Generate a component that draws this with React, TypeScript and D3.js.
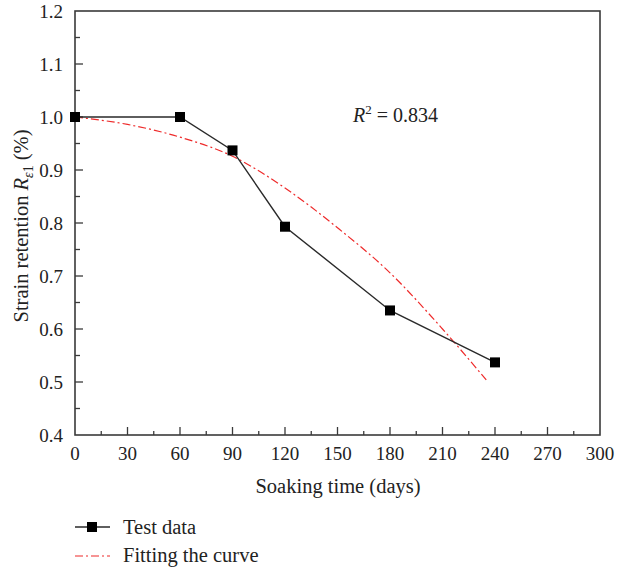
import React, { useEffect, useRef } from "react";
import * as d3 from "d3";

// test data
const testDays = [0, 60, 90, 120, 180, 240];
const testValues = [1.0, 1.0, 0.937, 0.793, 0.635, 0.537];

// fitted curve
const fitDays = [0, 30, 60, 90, 120, 150, 180, 210, 235];
const fitValues = [1.0, 0.986, 0.962, 0.926, 0.866, 0.791, 0.706, 0.6, 0.504];

const xTicks = [0, 30, 60, 90, 120, 150, 180, 210, 240, 270, 300];
const yTicks = [0.4, 0.5, 0.6, 0.7, 0.8, 0.9, 1.0, 1.1, 1.2];

const W = 617;
const H = 573;
const FONT = "'Liberation Serif', 'Times New Roman', serif";

const App = () => {
  const ref = useRef<SVGSVGElement>(null);

  useEffect(() => {
    const svg = d3.select(ref.current);
    svg.selectAll("*").remove();

    const x = d3.scaleLinear().domain([0, 300]).range([75, 600]);
    const y = d3.scaleLinear().domain([0.4, 1.2]).range([435, 11]);

    const g = svg.append("g");

    // inward ticks: major + minor
    const axisCol = "#3a3a3a";
    const minorX = d3.range(15, 300, 30);
    const minorY = d3.range(0.45, 1.2, 0.1);

    g.selectAll("line.xmaj")
      .data(xTicks.slice(1, -1))
      .join("line")
      .attr("x1", (d) => x(d))
      .attr("x2", (d) => x(d))
      .attr("y1", 435)
      .attr("y2", 427)
      .attr("stroke", axisCol)
      .attr("stroke-width", 1.3);
    g.selectAll("line.xmin")
      .data(minorX)
      .join("line")
      .attr("x1", (d) => x(d))
      .attr("x2", (d) => x(d))
      .attr("y1", 435)
      .attr("y2", 431)
      .attr("stroke", axisCol)
      .attr("stroke-width", 1.3);
    g.selectAll("line.ymaj")
      .data(yTicks.slice(1, -1))
      .join("line")
      .attr("x1", 75)
      .attr("x2", 83)
      .attr("y1", (d) => y(d))
      .attr("y2", (d) => y(d))
      .attr("stroke", axisCol)
      .attr("stroke-width", 1.3);
    g.selectAll("line.ymin")
      .data(minorY)
      .join("line")
      .attr("x1", 75)
      .attr("x2", 80)
      .attr("y1", (d) => y(d))
      .attr("y2", (d) => y(d))
      .attr("stroke", axisCol)
      .attr("stroke-width", 1.3);

    // frame
    g.append("rect")
      .attr("x", 75)
      .attr("y", 11)
      .attr("width", 525)
      .attr("height", 424)
      .attr("fill", "none")
      .attr("stroke", axisCol)
      .attr("stroke-width", 1.6);

    // tick labels
    g.selectAll("text.xt")
      .data(xTicks)
      .join("text")
      .attr("x", (d) => x(d))
      .attr("y", 460)
      .attr("text-anchor", "middle")
      .attr("font-family", FONT)
      .attr("font-size", 19)
      .attr("fill", "#222")
      .text((d) => d);
    g.selectAll("text.yt")
      .data(yTicks)
      .join("text")
      .attr("x", 63)
      .attr("y", (d) => y(d) + 6.5)
      .attr("text-anchor", "end")
      .attr("font-family", FONT)
      .attr("font-size", 19)
      .attr("fill", "#222")
      .text((d) => d.toFixed(1));

    // axis titles
    g.append("text")
      .attr("x", 338)
      .attr("y", 493)
      .attr("text-anchor", "middle")
      .attr("font-family", FONT)
      .attr("font-size", 20.5)
      .attr("fill", "#222")
      .text("Soaking time (days)");

    const yt = g
      .append("text")
      .attr("transform", "translate(28,226) rotate(-90)")
      .attr("text-anchor", "middle")
      .attr("font-family", FONT)
      .attr("font-size", 20.5)
      .attr("fill", "#222");
    yt.append("tspan").text("Strain retention ");
    yt.append("tspan").attr("font-style", "italic").text("R");
    yt.append("tspan")
      .attr("font-style", "italic")
      .attr("font-size", 14)
      .attr("dy", 5)
      .text("ε");
    yt.append("tspan").attr("font-size", 14).text("1");
    yt.append("tspan").attr("dy", -5).text(" (%)");

    // R^2 annotation
    const r2 = g
      .append("text")
      .attr("x", 353)
      .attr("y", 122)
      .attr("font-family", FONT)
      .attr("font-size", 20)
      .attr("fill", "#222");
    r2.append("tspan").attr("font-style", "italic").text("R");
    r2.append("tspan").attr("font-size", 13).attr("dy", -8).text("2");
    r2.append("tspan").attr("dy", 8).text(" = 0.834");

    // fitted curve
    const fitLine = d3
      .line<number>()
      .x((_, i) => x(fitDays[i]))
      .y((d) => y(d))
      .curve(d3.curveMonotoneX);
    g.append("path")
      .attr("d", fitLine(fitValues))
      .attr("fill", "none")
      .attr("stroke", "#ee2a2a")
      .attr("stroke-width", 1.2)
      .attr("stroke-dasharray", "8,3,2,3");

    // test data
    const testLine = d3
      .line<number>()
      .x((_, i) => x(testDays[i]))
      .y((d) => y(d));
    g.append("path")
      .attr("d", testLine(testValues))
      .attr("fill", "none")
      .attr("stroke", "#2a2a2a")
      .attr("stroke-width", 1.4);
    g.selectAll("rect.pt")
      .data(testValues)
      .join("rect")
      .attr("x", (_, i) => x(testDays[i]) - 5)
      .attr("y", (d) => y(d) - 5)
      .attr("width", 10)
      .attr("height", 10)
      .attr("fill", "#000");

    // legend
    const lg = g.append("g");
    lg.append("line")
      .attr("x1", 75)
      .attr("x2", 110)
      .attr("y1", 527)
      .attr("y2", 527)
      .attr("stroke", "#2a2a2a")
      .attr("stroke-width", 1.4);
    lg.append("rect")
      .attr("x", 87)
      .attr("y", 522)
      .attr("width", 10)
      .attr("height", 10)
      .attr("fill", "#000");
    lg.append("text")
      .attr("x", 123)
      .attr("y", 534)
      .attr("font-family", FONT)
      .attr("font-size", 20.5)
      .attr("fill", "#222")
      .text("Test data");
    lg.append("line")
      .attr("x1", 75)
      .attr("x2", 110)
      .attr("y1", 556)
      .attr("y2", 556)
      .attr("stroke", "#ee2a2a")
      .attr("stroke-width", 1.2)
      .attr("stroke-dasharray", "8,3,2,3");
    lg.append("text")
      .attr("x", 123)
      .attr("y", 562)
      .attr("font-family", FONT)
      .attr("font-size", 20.5)
      .attr("fill", "#222")
      .text("Fitting the curve");
  }, []);

  return (
    <svg
      ref={ref}
      width={W}
      height={H}
      style={{ position: "absolute", left: 0, top: 0, background: "white" }}
    />
  );
};

export default App;
